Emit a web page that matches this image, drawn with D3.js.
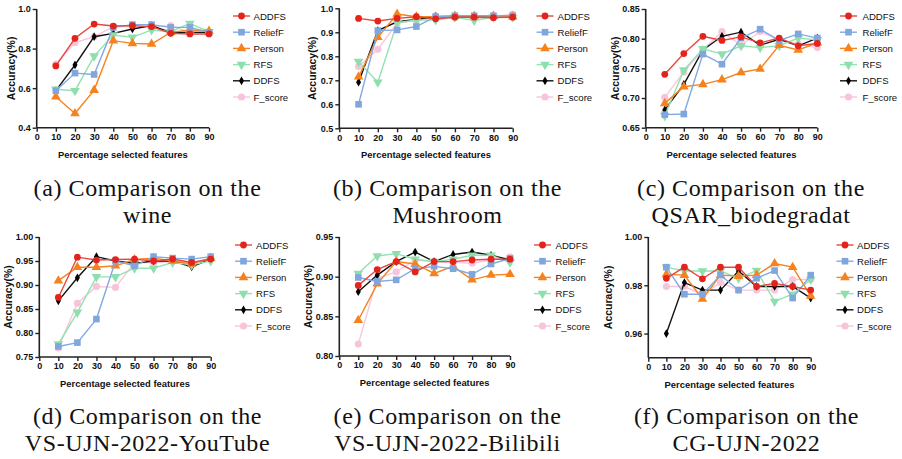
<!DOCTYPE html>
<html>
<head>
<meta charset="utf-8">
<script src="https://cdn.jsdelivr.net/npm/d3@7"></script>
<style>
  html, body { margin: 0; padding: 0; background: #fff; }
  svg { display: block; }
</style>
</head>
<body>
<svg id="chart" width="902" height="459"></svg>
<script>
// ---------- DATA ----------
const xValues = [10, 20, 30, 40, 50, 60, 70, 80, 90];
const xTicks = [0, 10, 20, 30, 40, 50, 60, 70, 80, 90];
const methods = ["ADDFS", "ReliefF", "Person", "RFS", "DDFS", "F_score"];

// rows follow the order of `methods`
const wineValues = [
  [0.712, 0.852, 0.924, 0.914, 0.916, 0.911, 0.877, 0.874, 0.874],
  [0.587, 0.676, 0.669, 0.907, 0.921, 0.921, 0.907, 0.907, 0.882],
  [0.556, 0.472, 0.590, 0.840, 0.826, 0.823, 0.882, 0.894, 0.889],
  [0.594, 0.587, 0.762, 0.868, 0.857, 0.894, 0.885, 0.927, 0.885],
  [0.587, 0.717, 0.860, 0.877, 0.899, 0.916, 0.882, 0.882, 0.882],
  [0.722, 0.830, 0.860, 0.911, 0.911, 0.911, 0.916, 0.882, 0.882]
];
const mushroomValues = [
  [0.958, 0.947, 0.958, 0.965, 0.956, 0.963, 0.963, 0.961, 0.963],
  [0.600, 0.907, 0.910, 0.924, 0.965, 0.969, 0.969, 0.969, 0.969],
  [0.715, 0.879, 0.976, 0.965, 0.965, 0.968, 0.968, 0.968, 0.965],
  [0.778, 0.692, 0.940, 0.951, 0.951, 0.963, 0.949, 0.963, 0.963],
  [0.692, 0.907, 0.944, 0.954, 0.965, 0.965, 0.965, 0.965, 0.965],
  [0.757, 0.829, 0.938, 0.949, 0.969, 0.965, 0.965, 0.965, 0.976]
];
const qsarValues = [
  [0.740, 0.775, 0.804, 0.797, 0.803, 0.793, 0.801, 0.788, 0.792],
  [0.672, 0.673, 0.774, 0.757, 0.801, 0.816, 0.797, 0.808, 0.801],
  [0.691, 0.719, 0.723, 0.731, 0.743, 0.749, 0.789, 0.781, 0.793],
  [0.670, 0.747, 0.783, 0.774, 0.788, 0.785, 0.788, 0.801, 0.798],
  [0.680, 0.723, 0.781, 0.804, 0.811, 0.789, 0.799, 0.788, 0.801],
  [0.701, 0.744, 0.781, 0.812, 0.789, 0.812, 0.798, 0.791, 0.785]
];
const youtubeValues = [
  [0.874, 0.958, 0.952, 0.953, 0.954, 0.950, 0.954, 0.947, 0.954],
  [0.772, 0.780, 0.829, 0.950, 0.940, 0.959, 0.956, 0.954, 0.959],
  [0.909, 0.937, 0.937, 0.940, 0.953, 0.956, 0.950, 0.944, 0.956],
  [0.777, 0.843, 0.917, 0.917, 0.935, 0.935, 0.947, 0.942, 0.950],
  [0.867, 0.915, 0.959, 0.950, 0.945, 0.950, 0.950, 0.938, 0.954],
  [0.769, 0.862, 0.897, 0.895, 0.947, 0.947, 0.949, 0.947, 0.956]
];
const bilibiliValues = [
  [0.889, 0.909, 0.919, 0.906, 0.919, 0.919, 0.921, 0.922, 0.922],
  [0.899, 0.894, 0.896, 0.910, 0.913, 0.910, 0.903, 0.916, 0.923],
  [0.845, 0.891, 0.919, 0.916, 0.904, 0.913, 0.896, 0.902, 0.903],
  [0.904, 0.926, 0.929, 0.922, 0.919, 0.922, 0.927, 0.927, 0.918],
  [0.881, 0.902, 0.919, 0.931, 0.919, 0.928, 0.931, 0.927, 0.921],
  [0.815, 0.898, 0.906, 0.921, 0.919, 0.918, 0.917, 0.921, 0.925]
];
const cgValues = [
  [0.9829, 0.9875, 0.9827, 0.9875, 0.9875, 0.9795, 0.9808, 0.9795, 0.9780],
  [0.9875, 0.9763, 0.9763, 0.9842, 0.9780, 0.9829, 0.9861, 0.9747, 0.9842],
  [0.9845, 0.9842, 0.9743, 0.9842, 0.9838, 0.9842, 0.9890, 0.9875, 0.9756],
  [0.9875, 0.9859, 0.9859, 0.9859, 0.9829, 0.9861, 0.9733, 0.9763, 0.9824],
  [0.9600, 0.9811, 0.9780, 0.9780, 0.9859, 0.9795, 0.9795, 0.9795, 0.9747],
  [0.9795, 0.9795, 0.9763, 0.9811, 0.9780, 0.9780, 0.9780, 0.9824, 0.9824]
];

const wineTicks = [0.4, 0.6, 0.8, 1.0];
const mushroomTicks = [0.5, 0.6, 0.7, 0.8, 0.9, 1.0];
const qsarTicks = [0.65, 0.70, 0.75, 0.80, 0.85];
const youtubeTicks = [0.75, 0.80, 0.85, 0.90, 0.95, 1.00];
const bilibiliTicks = [0.80, 0.85, 0.90, 0.95];
const cgTicks = [0.96, 0.98, 1.00];

const captions = [
  ["(a) Comparison on the", "wine"],
  ["(b) Comparison on the", "Mushroom"],
  ["(c) Comparison on the", "QSAR_biodegradat"],
  ["(d) Comparison on the", "VS-UJN-2022-YouTube"],
  ["(e) Comparison on the", "VS-UJN-2022-Bilibili"],
  ["(f) Comparison on the", "CG-UJN-2022"]
];

// ---------- LAYOUT / STYLE ----------
const panels = [
  { values: wineValues, domain: [0.4, 1.0], ticks: wineTicks, fmt: ".1f",
    x0: 36.7, x1: 209, top: 9, bottom: 127.7, ylabX: 11.5, legX: 241.5, legTX: 253.5, legY: 16, capX: 147.5, capY: 196 },
  { values: mushroomValues, domain: [0.5, 1.0], ticks: mushroomTicks, fmt: ".1f",
    x0: 339.3, x1: 512.7, top: 8.3, bottom: 128.3, ylabX: 312.5, legX: 545, legTX: 557.5, legY: 16, capX: 447.5, capY: 196 },
  { values: qsarValues, domain: [0.65, 0.85], ticks: qsarTicks, fmt: ".2f",
    x0: 645.7, x1: 817.3, top: 9, bottom: 127.7, ylabX: 615, legX: 848.5, legTX: 862.5, legY: 16, capX: 751, capY: 196 },
  { values: youtubeValues, domain: [0.75, 1.00], ticks: youtubeTicks, fmt: ".2f",
    x0: 39.3, x1: 210.7, top: 237, bottom: 357, ylabX: 8.5, legX: 243.5, legTX: 256, legY: 245, capX: 147.5, capY: 423.5 },
  { values: bilibiliValues, domain: [0.80, 0.95], ticks: bilibiliTicks, fmt: ".2f",
    x0: 339.3, x1: 510, top: 237, bottom: 356, ylabX: 308.5, legX: 542.5, legTX: 555.5, legY: 245, capX: 447.5, capY: 423.5 },
  { values: cgValues, domain: [0.95, 1.00], ticks: cgTicks, fmt: ".2f",
    x0: 648.3, x1: 810.7, top: 237, bottom: 357.7, ylabX: 608.5, legX: 845, legTX: 857, legY: 245, capX: 746.5, capY: 423.5 }
];

const lineColors = ["#e8473f", "#82aae0", "#f5831f", "#93e2b2", "#111111", "#f9c6dc"];
const markColors = ["#e3231c", "#7fa7de", "#f5821e", "#8fdfae", "#000000", "#f8c4da"];
const symbols = [
  { type: d3.symbolCircle, size: 36, rot: 0 },
  { type: d3.symbolSquare, size: 44, rot: 0 },
  { type: d3.symbolTriangle, size: 40, rot: 0 },
  { type: d3.symbolTriangle, size: 40, rot: 180 },
  { type: d3.symbolDiamond, size: 22, rot: 0 },
  { type: d3.symbolCircle, size: 40, rot: 0 }
];
const drawOrder = [5, 4, 3, 2, 1, 0];
const sans = "'Liberation Sans', Arial, sans-serif";

const svg = d3.select("#chart");

panels.forEach((p, pi) => {
  const g = svg.append("g");
  const x = d3.scaleLinear().domain([0, 90]).range([p.x0, p.x1]);
  const y = d3.scaleLinear().domain(p.domain).range([p.bottom, p.top]);

  // axes
  const xAxis = d3.axisBottom(x).tickValues(xTicks).tickSize(4).tickPadding(2).tickFormat(d3.format("d"));
  const yAxis = d3.axisLeft(y).tickValues(p.ticks).tickSize(4).tickPadding(2).tickFormat(d3.format(p.fmt));

  const gx = g.append("g").attr("transform", `translate(0,${p.bottom})`).call(xAxis);
  const gy = g.append("g").attr("transform", `translate(${p.x0},0)`).call(yAxis);
  [gx, gy].forEach(ax => {
    ax.select(".domain").attr("stroke", "#222").attr("stroke-width", 1.6);
    ax.selectAll(".tick line").attr("stroke", "#222").attr("stroke-width", 1.4);
    ax.selectAll(".tick text").attr("fill", "#111")
      .style("font-family", sans).style("font-size", "9px").style("font-weight", "bold");
  });
  gx.select(".domain").attr("d", `M${p.x0},0H${p.x1}`);
  gy.select(".domain").attr("d", `M0,${p.bottom}V${p.top}`);

  // axis titles
  g.append("text")
    .attr("x", (p.x0 + p.x1) / 2).attr("y", p.bottom + 30)
    .attr("text-anchor", "middle")
    .style("font-family", sans).style("font-size", "9.4px").style("font-weight", "bold").attr("fill", "#111")
    .text("Percentage selected features");
  g.append("text")
    .attr("transform", `translate(${p.ylabX + 3.5},${(p.top + p.bottom) / 2}) rotate(-90)`)
    .attr("text-anchor", "middle")
    .style("font-family", sans).style("font-size", "10.5px").style("font-weight", "bold").attr("fill", "#111")
    .text("Accuracy(%)");

  // series
  const line = d3.line().x((d, i) => x(xValues[i])).y(d => y(d));
  drawOrder.forEach(si => {
    const vals = p.values[si];
    g.append("path").datum(vals)
      .attr("d", line).attr("fill", "none")
      .attr("stroke", lineColors[si]).attr("stroke-width", 1.4);
    const sym = d3.symbol().type(symbols[si].type).size(symbols[si].size);
    g.selectAll(null).data(vals).enter().append("path")
      .attr("d", sym)
      .attr("transform", (d, i) => `translate(${x(xValues[i])},${y(d)}) rotate(${symbols[si].rot})`)
      .attr("fill", markColors[si]);
  });

  // legend
  methods.forEach((m, si) => {
    const ly = p.legY + si * 16.2;
    g.append("line")
      .attr("x1", p.legX - 8.5).attr("x2", p.legX + 8.5)
      .attr("y1", ly).attr("y2", ly)
      .attr("stroke", lineColors[si]).attr("stroke-width", 1.4);
    const sym = d3.symbol().type(symbols[si].type).size(symbols[si].size);
    g.append("path").attr("d", sym)
      .attr("transform", `translate(${p.legX},${ly}) rotate(${symbols[si].rot})`)
      .attr("fill", markColors[si]);
    g.append("text")
      .attr("x", p.legTX).attr("y", ly + 3.5)
      .style("font-family", sans).style("font-size", "9.6px").attr("fill", "#111")
      .text(m);
  });

  // caption
  captions[pi].forEach((t, li) => {
    g.append("text")
      .attr("x", p.capX).attr("y", p.capY + li * 27)
      .attr("text-anchor", "middle")
      .style("font-family", "'Liberation Serif', 'Times New Roman', serif")
      .style("font-size", "24px").style("letter-spacing", "0.6px").attr("fill", "#111")
      .text(t);
  });
});
</script>
</body>
</html>
